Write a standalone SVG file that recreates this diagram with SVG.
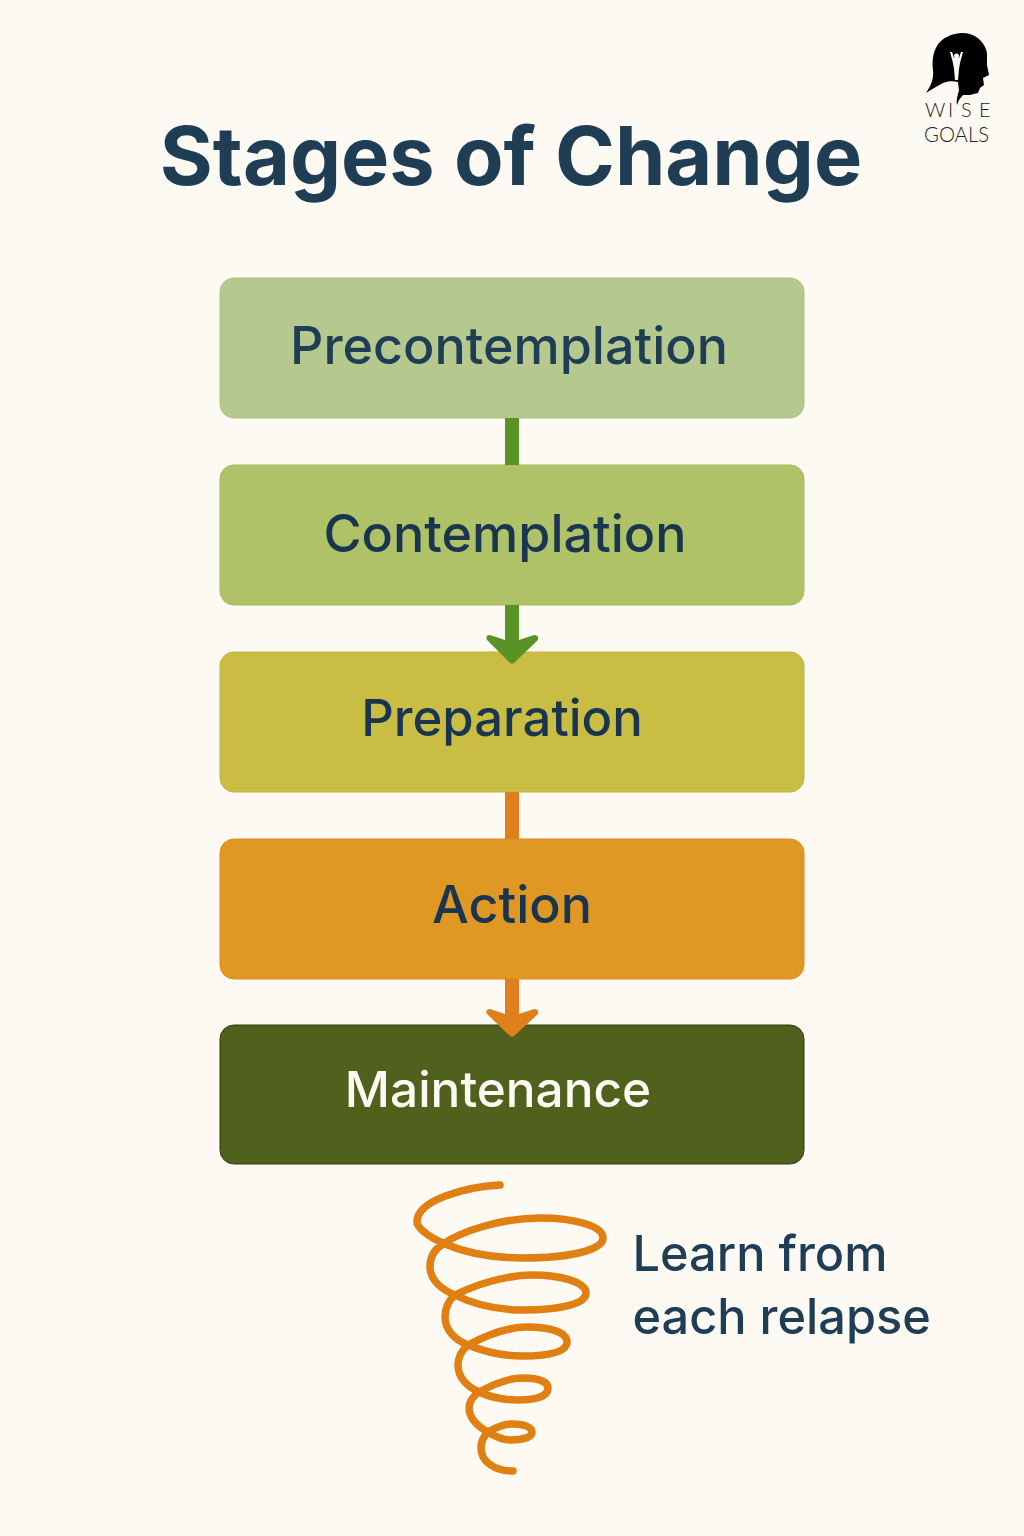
<svg xmlns="http://www.w3.org/2000/svg" width="1024" height="1536" viewBox="0 0 1024 1536">
<style>
.box{stroke-width:1}
.lbl{font-family:"Inter","Liberation Sans",sans-serif;font-size:52px;font-weight:500;fill:#19354f;text-anchor:middle}
.side{font-family:"Inter","Liberation Sans",sans-serif;font-size:48.700px;font-weight:500;fill:#1f3d55}
.logo{font-family:"Lato","Liberation Sans",sans-serif;font-weight:300;fill:#222}
</style>
<rect width="1024" height="1536" fill="#fdfaf3"/>
<text id="title" x="511" y="185" font-family="Inter,'Liberation Sans',sans-serif" font-size="81" font-weight="700" fill="#1f3d55" text-anchor="middle">Stages of Change</text>
<g id="logo">
<path d="M926 93C931 86 934 78 933 70C932 62 933 55 935 50C938 43 942 39 947 37C952 34 958 33 963 33C970 33 976 36 980 40C984 44 986 48 987 53L987 65L989 75L983 78L984 85L980 88L978 93L970 95L963 95L959 100L957 105C956 99 958 95 959 90L958 82C953 81 948 81 943 83C937 86 931 90 926 93Z" fill="#000"/>
<path d="M950 52L952 52L954 58H959L961 52L963 52L960 63L959 69L958 80H955L954 69L953 63Z" fill="#fdfaf3"/>
<circle cx="956.500" cy="56" r="2.500" fill="#fdfaf3"/>
<text class="logo" x="925 948 961 979" y="117" font-size="20">WISE</text>
<text class="logo" x="924" y="142" font-size="21" textLength="65" lengthAdjust="spacingAndGlyphs">GOALS</text>
</g>
<g id="precontemplation"><rect class="box" x="220" y="278" width="584" height="140" rx="14" fill="#b5c98f" stroke="#a9c080"/><text class="lbl" x="509" y="364" style="fill:#1f3d55">Precontemplation</text></g>
<g id="contemplation"><rect class="box" x="220" y="465" width="584" height="140" rx="14" fill="#afc268" stroke="#a5bb55"/><text class="lbl" x="505" y="552">Contemplation</text></g>
<g id="preparation"><rect class="box" x="220" y="652" width="584" height="140" rx="14" fill="#c9be43" stroke="#bdb53c"/><text class="lbl" x="502" y="736" style="font-size:50.800px">Preparation</text></g>
<g id="action"><rect class="box" x="220" y="839" width="584" height="140" rx="14" fill="#df9823" stroke="#d98f1f"/><text class="lbl" x="512" y="923">Action</text></g>
<g id="maintenance"><rect class="box" x="220" y="1025" width="584" height="139" rx="14" fill="#4f611c" stroke="#2f3f12"/><text class="lbl" x="498" y="1107" style="fill:#fdfaf3;font-size:49.500px">Maintenance</text></g>
<g id="connectors">
<rect x="505" y="418" width="14" height="47" fill="#5a9227"/>
<path d="M505 605H519V640L534 635Q539 635 538 640L514 663Q512 664 510 663L487 640Q485 635 490 635L505 640Z" fill="#5a9227"/>
<rect x="505" y="792" width="14" height="47" fill="#e07f1c"/>
<path d="M505 979H519V1014L534 1009Q539 1009 538 1014L514 1036Q512 1037 510 1036L487 1014Q485 1009 490 1009L505 1014Z" fill="#e07f1c"/>
</g>
<path id="spiral" d="M500 1185C465 1187 417 1200 417 1222C417 1232 455 1258 523 1258C570 1258 603 1250 603 1238C603 1226 575 1218 540 1218C500 1218 460 1232 443 1244C433 1250 430 1258 430 1267C430 1280 442 1290 455 1295C475 1305 500 1310 523 1310C560 1310 586 1304 586 1293C586 1282 560 1275 533 1275C505 1275 475 1285 455 1295C447 1302 445 1310 445 1317C445 1330 455 1340 468 1345C485 1352 505 1356 522 1356C550 1356 567 1352 567 1342C567 1332 550 1327 527 1327C505 1327 485 1336 468 1345C461 1351 458 1358 458 1365C458 1378 468 1387 479 1392C492 1398 505 1400 518 1400C537 1400 548 1396 548 1388C548 1381 537 1378 522 1378C507 1378 492 1385 479 1392C472 1397 469 1402 469 1408C469 1418 478 1427 488 1432C496 1437 503 1440 510 1440C524 1440 532 1437 532 1432C532 1427 524 1424 512 1424C503 1424 495 1428 488 1432C483 1437 481 1442 481 1448C481 1462 495 1471 513 1471" fill="none" stroke="#e07f12" stroke-width="7.500" stroke-linecap="round"/>
<text class="side" x="632.500" y="1271">Learn from</text>
<text class="side" x="632.500" y="1334">each relapse</text>
</svg>
